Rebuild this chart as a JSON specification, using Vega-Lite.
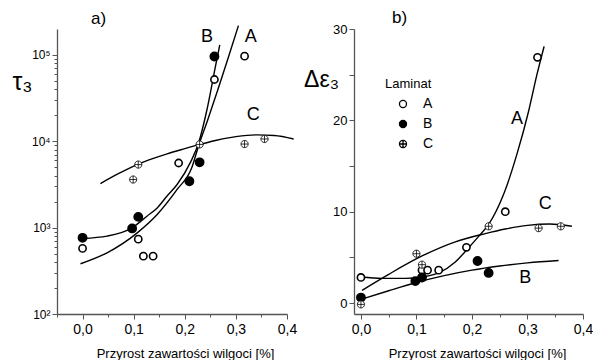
{
  "$schema": "https://vega.github.io/schema/vega-lite/v6.json",
  "padding": {"left": 11, "top": 9, "right": 0, "bottom": 0},
  "bounds": "flush",
  "spacing": 67,
  "config": {
    "font": "Liberation Sans",
    "view": {"stroke": null},
    "axis": {"grid": false, "domainColor": "#555", "tickColor": "#555", "domainWidth": 1.3, "tickWidth": 1, "labelColor": "black", "titleColor": "black", "titleFontWeight": "normal", "labelFont": "Liberation Sans", "titleFont": "Liberation Sans"},
    "title": {"font": "Liberation Sans", "fontWeight": "normal", "color": "black"}
  },
  "datasets": {
    "pa": [
      {"s": "A", "x": 0, "y": 575}, {"s": "A", "x": 0.109, "y": 736}, {"s": "A", "x": 0.119, "y": 468}, {"s": "A", "x": 0.138, "y": 468}, {"s": "A", "x": 0.188, "y": 5610}, {"s": "A", "x": 0.258, "y": 52000}, {"s": "A", "x": 0.317, "y": 97000},
      {"s": "B", "x": 0, "y": 762}, {"s": "B", "x": 0.097, "y": 980}, {"s": "B", "x": 0.109, "y": 1333}, {"s": "B", "x": 0.209, "y": 3450}, {"s": "B", "x": 0.229, "y": 5710}, {"s": "B", "x": 0.258, "y": 96000},
      {"s": "C", "x": 0.099, "y": 3610}, {"s": "C", "x": 0.109, "y": 5380}, {"s": "C", "x": 0.229, "y": 9200}, {"s": "C", "x": 0.317, "y": 9300}, {"s": "C", "x": 0.356, "y": 10650}
    ],
    "ca": [
      {"c": "A", "x": -0.004, "y": 382}, {"c": "A", "x": 0.048, "y": 512}, {"c": "A", "x": 0.107, "y": 871}, {"c": "A", "x": 0.146, "y": 1420}, {"c": "A", "x": 0.185, "y": 2770}, {"c": "A", "x": 0.214, "y": 5000}, {"c": "A", "x": 0.226, "y": 8500}, {"c": "A", "x": 0.245, "y": 17800}, {"c": "A", "x": 0.265, "y": 40000}, {"c": "A", "x": 0.285, "y": 93000}, {"c": "A", "x": 0.305, "y": 219000},
      {"c": "B", "x": 0, "y": 750}, {"c": "B", "x": 0.048, "y": 798}, {"c": "B", "x": 0.095, "y": 980}, {"c": "B", "x": 0.126, "y": 1358}, {"c": "B", "x": 0.146, "y": 1694}, {"c": "B", "x": 0.165, "y": 2312}, {"c": "B", "x": 0.185, "y": 3160}, {"c": "B", "x": 0.211, "y": 5700}, {"c": "B", "x": 0.227, "y": 9550}, {"c": "B", "x": 0.2425, "y": 22000}, {"c": "B", "x": 0.26, "y": 73600}, {"c": "B", "x": 0.2685, "y": 131000},
      {"c": "C", "x": 0.035, "y": 3245}, {"c": "C", "x": 0.07, "y": 4220}, {"c": "C", "x": 0.107, "y": 5380}, {"c": "C", "x": 0.14, "y": 6380}, {"c": "C", "x": 0.1655, "y": 7160}, {"c": "C", "x": 0.2, "y": 8220}, {"c": "C", "x": 0.224, "y": 9020}, {"c": "C", "x": 0.26, "y": 10230}, {"c": "C", "x": 0.3, "y": 11350}, {"c": "C", "x": 0.34, "y": 11880}, {"c": "C", "x": 0.375, "y": 11700}, {"c": "C", "x": 0.413, "y": 10650}
    ],
    "la": [
      {"t": "B", "x": 0.2435, "y": 163000}, {"t": "A", "x": 0.329, "y": 163000}, {"t": "C", "x": 0.334, "y": 20000}
    ],
    "pb": [
      {"s": "A", "x": 0, "y": 2.8}, {"s": "A", "x": 0.11, "y": 3.6}, {"s": "A", "x": 0.12, "y": 3.6}, {"s": "A", "x": 0.14, "y": 3.6}, {"s": "A", "x": 0.19, "y": 6.1}, {"s": "A", "x": 0.26, "y": 10}, {"s": "A", "x": 0.318, "y": 26.9},
      {"s": "B", "x": 0, "y": 0.6}, {"s": "B", "x": 0.098, "y": 2.4}, {"s": "B", "x": 0.11, "y": 2.8}, {"s": "B", "x": 0.21, "y": 4.6}, {"s": "B", "x": 0.23, "y": 3.3},
      {"s": "C", "x": 0, "y": -0.15}, {"s": "C", "x": 0.1, "y": 5.4}, {"s": "C", "x": 0.11, "y": 4.2}, {"s": "C", "x": 0.23, "y": 8.4}, {"s": "C", "x": 0.32, "y": 8.2}, {"s": "C", "x": 0.36, "y": 8.4}
    ],
    "cb": [
      {"c": "A", "x": 0, "y": 2.85}, {"c": "A", "x": 0.038, "y": 2.7}, {"c": "A", "x": 0.08, "y": 2.7}, {"c": "A", "x": 0.11, "y": 2.85}, {"c": "A", "x": 0.14, "y": 3.3}, {"c": "A", "x": 0.17, "y": 4.5}, {"c": "A", "x": 0.194, "y": 6.06}, {"c": "A", "x": 0.212, "y": 7.3}, {"c": "A", "x": 0.23, "y": 8.6}, {"c": "A", "x": 0.257, "y": 11.9}, {"c": "A", "x": 0.281, "y": 16.3}, {"c": "A", "x": 0.302, "y": 21}, {"c": "A", "x": 0.317, "y": 25}, {"c": "A", "x": 0.33, "y": 28.1},
      {"c": "B", "x": 0, "y": 0.4}, {"c": "B", "x": 0.05, "y": 1.35}, {"c": "B", "x": 0.1, "y": 2.25}, {"c": "B", "x": 0.15, "y": 3.0}, {"c": "B", "x": 0.2, "y": 3.6}, {"c": "B", "x": 0.25, "y": 4.05}, {"c": "B", "x": 0.3, "y": 4.4}, {"c": "B", "x": 0.356, "y": 4.65},
      {"c": "C", "x": 0.002, "y": 1.39}, {"c": "C", "x": 0.05, "y": 3.14}, {"c": "C", "x": 0.11, "y": 5.15}, {"c": "C", "x": 0.17, "y": 6.7}, {"c": "C", "x": 0.224, "y": 7.6}, {"c": "C", "x": 0.26, "y": 8.1}, {"c": "C", "x": 0.3, "y": 8.5}, {"c": "C", "x": 0.34, "y": 8.65}, {"c": "C", "x": 0.38, "y": 8.4}
    ],
    "lb": [
      {"t": "A", "x": 0.281, "y": 20.1}, {"t": "C", "x": 0.332, "y": 10.8}, {"t": "B", "x": 0.296, "y": 2.7}
    ]
  },
  "resolve": {"scale": {"shape": "independent", "fill": "independent", "stroke": "independent"}, "legend": {"shape": "independent", "fill": "independent", "stroke": "independent"}},
  "hconcat": [
    {
      "width": 230,
      "height": 285,
      "title": {"text": "a)", "anchor": "start", "frame": "group", "dx": 34, "fontSize": 17, "baseline": "alphabetic", "offset": -18},
      "encoding": {
        "x": {"field": "x", "type": "quantitative", "scale": {"domain": [-0.05, 0.4], "nice": false, "zero": false},
          "axis": {"values": [-0.05, 0, 0.05, 0.1, 0.15, 0.2, 0.25, 0.3, 0.35, 0.4],
            "labelExpr": "abs(datum.value*10-round(datum.value*10))<0.001 && datum.value>=0 ? replace(format(datum.value,'.1f'),'.',',') : ''",
            "tickSize": {"condition": {"test": "abs(datum.value*10-round(datum.value*10))<0.001", "value": 5}, "value": 3},
            "labelFlush": false, "labelPadding": 3, "labelFontSize": 14,
            "title": "Przyrost zawartości wilgoci [%]", "titleFontSize": 13, "titleX": 128, "titleY": 39, "titleAlign": "center", "titleBaseline": "middle"}},
        "y": {"field": "y", "type": "quantitative", "scale": {"type": "log", "domain": [100, 200000], "nice": false},
          "axis": {"values": [100, 200, 300, 400, 500, 600, 700, 800, 900, 1000, 2000, 3000, 4000, 5000, 6000, 7000, 8000, 9000, 10000, 20000, 30000, 40000, 50000, 60000, 70000, 80000, 90000, 100000],
            "labelExpr": "datum.value===100?'10²':datum.value===1000?'10³':datum.value===10000?'10⁴':datum.value===100000?'10⁵':''",
            "tickSize": {"condition": {"test": "datum.value===100||datum.value===1000||datum.value===10000||datum.value===100000", "value": 5}, "value": 3},
            "labelPadding": 2, "labelFontSize": 12,
            "title": "τ₃", "titleFontSize": 25, "titleAngle": 0, "titleX": -35, "titleY": 52, "titleAlign": "center", "titleBaseline": "middle"}}
      },
      "layer": [
        {"data": {"name": "ca"}, "mark": {"type": "line", "interpolate": "monotone", "color": "black", "strokeWidth": 1.4}, "encoding": {"detail": {"field": "c"}}},
        {"data": {"name": "pa"}, "mark": {"type": "point", "filled": true, "opacity": 1},
          "encoding": {
            "shape": {"field": "s", "type": "nominal", "scale": {"domain": ["A", "B", "C"], "range": ["circle", "circle", "M-1,0A1,1,0,1,1,1,0A1,1,0,1,1,-1,0M-1,0L1,0M0,-1L0,1"]}, "legend": null},
            "fill": {"field": "s", "type": "nominal", "scale": {"domain": ["A", "B", "C"], "range": ["white", "black", "white"]}, "legend": null},
            "stroke": {"field": "s", "type": "nominal", "scale": {"domain": ["A", "B", "C"], "range": ["black", "black", "black"]}, "legend": null},
            "strokeWidth": {"condition": {"test": "datum.s==='C'", "value": 0.8}, "value": 1.6},
            "size": {"condition": {"test": "datum.s==='B'", "value": 68}, "value": 52}
          }},
        {"data": {"name": "la"}, "mark": {"type": "text", "fontSize": 18, "align": "center", "baseline": "middle", "color": "black"}, "encoding": {"text": {"field": "t"}}}
      ]
    },
    {
      "width": 229,
      "height": 285,
      "title": {"text": "b)", "anchor": "start", "frame": "group", "dx": 38, "fontSize": 17, "baseline": "alphabetic", "offset": -17},
      "encoding": {
        "x": {"field": "x", "type": "quantitative", "scale": {"domain": [-0.0125, 0.4], "nice": false, "zero": false},
          "axis": {"values": [0, 0.05, 0.1, 0.15, 0.2, 0.25, 0.3, 0.35, 0.4],
            "labelExpr": "abs(datum.value*10-round(datum.value*10))<0.001 ? replace(format(datum.value,'.1f'),'.',',') : ''",
            "tickSize": {"condition": {"test": "abs(datum.value*10-round(datum.value*10))<0.001", "value": 5}, "value": 3},
            "labelFlush": false, "labelPadding": 3, "labelFontSize": 14,
            "title": "Przyrost zawartości wilgoci [%]", "titleFontSize": 13, "titleX": 123, "titleY": 39, "titleAlign": "center", "titleBaseline": "middle"}},
        "y": {"field": "y", "type": "quantitative", "scale": {"domain": [-1.2, 30], "nice": false, "zero": false},
          "axis": {"values": [0, 5, 10, 15, 20, 25, 30],
            "labelExpr": "datum.value%10===0 ? datum.value : ''",
            "tickSize": 5,
            "labelPadding": 2, "labelFontSize": 13,
            "title": "Δε₃", "titleFontSize": 23, "titleAngle": 0, "titleX": -33, "titleY": 50, "titleAlign": "center", "titleBaseline": "middle"}}
      },
      "layer": [
        {"data": {"name": "cb"}, "mark": {"type": "line", "interpolate": "monotone", "color": "black", "strokeWidth": 1.4}, "encoding": {"detail": {"field": "c"}}},
        {"data": {"name": "pb"}, "mark": {"type": "point", "filled": true, "opacity": 1},
          "encoding": {
            "shape": {"field": "s", "type": "nominal", "scale": {"domain": ["A", "B", "C"], "range": ["circle", "circle", "M-1,0A1,1,0,1,1,1,0A1,1,0,1,1,-1,0M-1,0L1,0M0,-1L0,1"]},
              "legend": {"title": "Laminat", "orient": "none", "legendX": 31, "legendY": 49, "titleFontSize": 13, "titleFontWeight": "normal", "labelFontSize": 14, "symbolSize": 50, "symbolStrokeWidth": 1.3, "symbolOffset": 11, "labelOffset": 13, "rowPadding": 6, "titlePadding": 6}},
            "fill": {"field": "s", "type": "nominal", "scale": {"domain": ["A", "B", "C"], "range": ["white", "black", "white"]},
              "legend": {"title": "Laminat", "orient": "none", "legendX": 31, "legendY": 49, "titleFontSize": 13, "titleFontWeight": "normal", "labelFontSize": 14, "symbolSize": 50, "symbolStrokeWidth": 1.3, "symbolOffset": 11, "labelOffset": 13, "rowPadding": 6, "titlePadding": 6}},
            "stroke": {"field": "s", "type": "nominal", "scale": {"domain": ["A", "B", "C"], "range": ["black", "black", "black"]},
              "legend": {"title": "Laminat", "orient": "none", "legendX": 31, "legendY": 49, "titleFontSize": 13, "titleFontWeight": "normal", "labelFontSize": 14, "symbolSize": 50, "symbolStrokeWidth": 1.3, "symbolOffset": 11, "labelOffset": 13, "rowPadding": 6, "titlePadding": 6}},
            "strokeWidth": {"condition": {"test": "datum.s==='C'", "value": 0.8}, "value": 1.6},
            "size": {"condition": {"test": "datum.s==='B'", "value": 68}, "value": 52}
          }},
        {"data": {"name": "lb"}, "mark": {"type": "text", "fontSize": 18, "align": "center", "baseline": "middle", "color": "black"}, "encoding": {"text": {"field": "t"}}}
      ]
    }
  ]
}
